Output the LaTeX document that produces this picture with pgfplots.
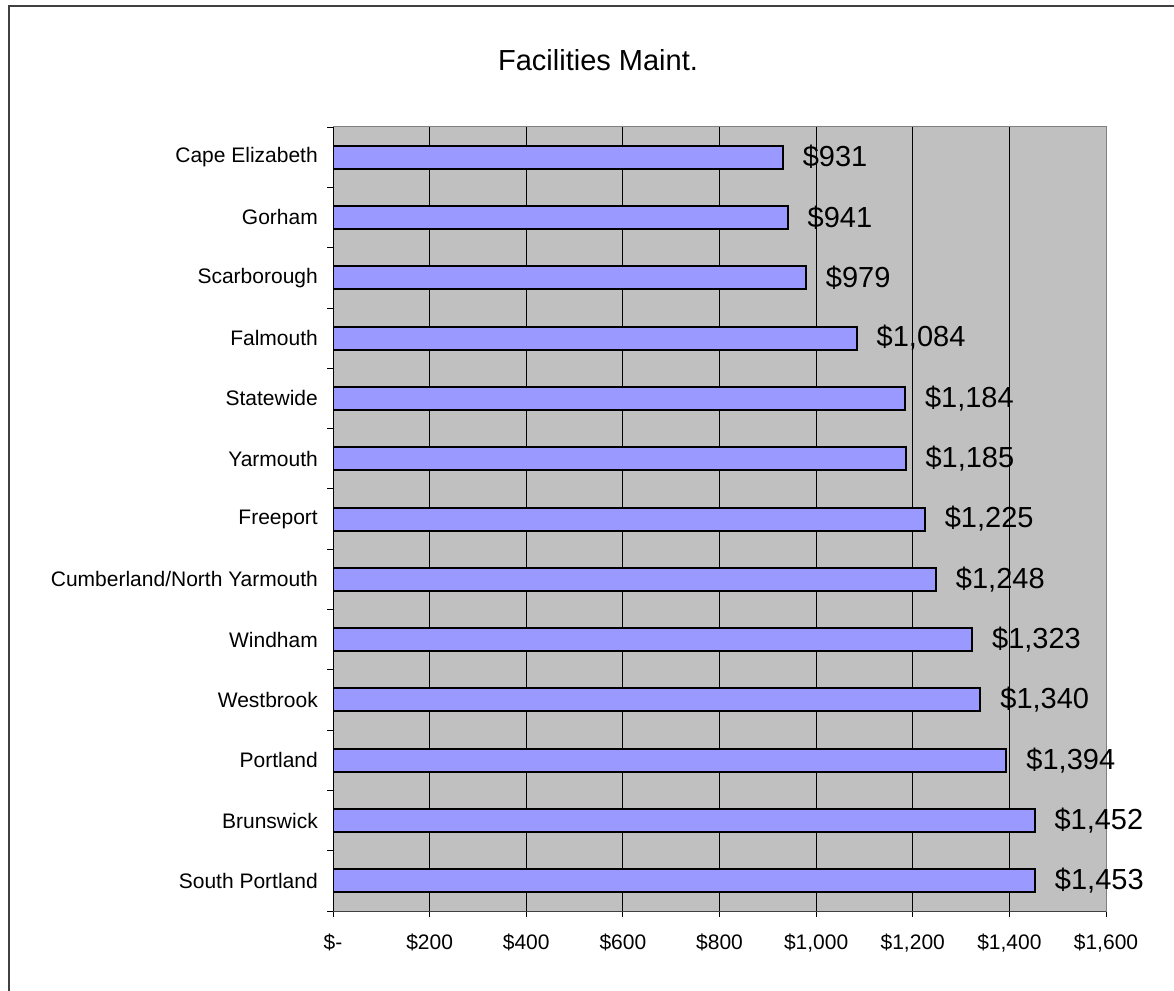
\documentclass[border=0pt]{standalone}
\usepackage{pgfplots}
\pgfplotsset{compat=1.18}
\usepackage{pgfplotstable}
\usepackage{fontspec}
\setmainfont{Liberation Sans}
\definecolor{plotbg}{HTML}{C0C0C0}
\definecolor{barfill}{HTML}{9999FF}
\definecolor{frameg}{HTML}{808080}
\definecolor{outer}{HTML}{404040}
\pgfplotstableread[col sep=comma]{
idx,val,lab
0,931,{\$931}
1,941,{\$941}
2,979,{\$979}
3,1084,{\$1,084}
4,1184,{\$1,184}
5,1185,{\$1,185}
6,1225,{\$1,225}
7,1248,{\$1,248}
8,1323,{\$1,323}
9,1340,{\$1,340}
10,1394,{\$1,394}
11,1452,{\$1,452}
12,1453,{\$1,453}
}\datatable
\begin{document}
\begin{tikzpicture}
\useasboundingbox (0,0) rectangle (1174pt,990pt);
\draw[outer, line width=2pt] (8.5pt,-5pt) -- (8.5pt,984pt) -- (1180pt,984pt);
\node[anchor=base, font=\fontsize{29}{34}\selectfont] at (598pt,919pt) {Facilities Maint.};
\begin{axis}[
  at={(333pt,79pt)}, anchor=south west,
  scale only axis, width=773pt, height=784pt,
  xbar, bar width=23pt,
  xmin=0, xmax=1600,
  ymin=-0.5, ymax=12.5, y dir=reverse,
  axis background/.style={fill=plotbg},
  axis line style={draw=frameg, line width=1pt},
  xtick={0,200,...,1600},
  xticklabels={{\$-},{\$200},{\$400},{\$600},{\$800},{\$1,000},{\$1,200},{\$1,400},{\$1,600}},
  ytick={0,...,12},
  yticklabels={Cape Elizabeth,Gorham,Scarborough,Falmouth,Statewide,Yarmouth,Freeport,Cumberland/North Yarmouth,Windham,Westbrook,Portland,Brunswick,South Portland},
  minor ytick={-0.5,0.5,...,12.5},
  xtick pos=bottom, ytick pos=left,
  tick align=outside,
  major tick length=6pt, minor tick length=6pt,
  x tick style={black, line width=0.8pt},
  y tick style={black, line width=0.8pt},
  every major y tick/.append style={draw=none},
  xmajorgrids, major x grid style={black, line width=0.8pt},
  tick label style={font=\fontsize{21}{25}\selectfont},
  yticklabel style={inner sep=0pt, xshift=-9pt},
  xticklabel style={inner sep=0pt, yshift=-17pt},
  nodes near coords={\pgfplotspointmeta},
  point meta=explicit symbolic,
  every node near coord/.append style={font=\fontsize{29}{34}\selectfont, anchor=west, inner sep=0pt, xshift=19pt, black},
]
\addplot[fill=barfill, draw=black, line width=2pt] table[x=val, y=idx, meta=lab] {\datatable};
\draw[black, line width=1pt] (axis cs:0,-0.5) -- (axis cs:0,12.5);
\draw[black!75, line width=1pt] (axis cs:0,12.5) -- (axis cs:1600,12.5);
\end{axis}
\end{tikzpicture}
\end{document}
